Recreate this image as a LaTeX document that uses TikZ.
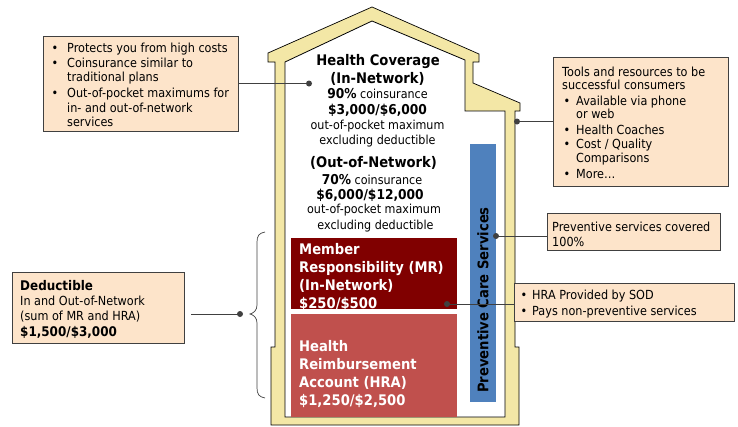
\documentclass[tikz,border=0pt]{standalone}
\usepackage{fontspec}
\setmainfont{DejaVu Sans}[FakeStretch=0.9]
\definecolor{wallc}{RGB}{243,231,166}
\definecolor{peach}{RGB}{253,228,202}
\definecolor{mrred}{RGB}{128,0,0}
\definecolor{hrared}{RGB}{192,80,77}
\definecolor{pblue}{RGB}{79,129,189}
\definecolor{linec}{RGB}{64,64,64}
\newcommand\mytitle{\fontsize{14.6}{17}\selectfont\bfseries}
\newcommand\myamt{\fontsize{13.6}{16}\selectfont\bfseries}
\newcommand\myreg{\fontsize{12.4}{15}\selectfont}
\newcommand\myboxt{\fontsize{12.5}{15}\selectfont}
\newcommand\myboxb{\fontsize{13.3}{15}\selectfont\bfseries}
\begin{document}
\begin{tikzpicture}[x=1pt,y=-1pt,
  infobox/.style={draw=linec, fill=peach, line width=0.8pt, inner sep=0pt, minimum width=#1},
  conn/.style={draw=linec, line width=0.8pt},
  dotc/.style={circle, fill=linec, inner sep=0pt, minimum size=6pt},
  ln/.style={anchor=base west, inner sep=0pt, font=\myboxt},
  bul/.style={anchor=base, inner sep=0pt, font=\myboxt},
  hl/.style={anchor=base, inner sep=0pt},
  wl/.style={anchor=base west, inner sep=0pt, text=white, font=\mytitle},
  blk/.style={inner sep=0pt, draw=none}]
\useasboundingbox (0,0) rectangle (738,426);

% house
\draw[fill=wallc, draw=black, line width=0.7pt]
  (271,425) -- (271,347) -- (275,347) -- (275,62) -- (268,62) -- (268,53) -- (372,7)
  -- (479,54) -- (479,62) -- (473,62) -- (473,83) -- (520,103) -- (520,111) -- (515,111)
  -- (515,347) -- (519,347) -- (519,425) -- cycle;
\draw[fill=white, draw=black, line width=0.8pt]
  (285,417) -- (285,62) -- (372,21) -- (465,60) -- (465,111) -- (505,111) -- (505,417) -- cycle;

% coloured blocks
\node[blk, fill=mrred, minimum width=166pt, minimum height=71pt] (mr) at (374,273.5) {};
\node[blk, fill=hrared, minimum width=166pt, minimum height=103pt] (hra) at (374,365.5) {};
\node[blk, fill=pblue, minimum width=26pt, minimum height=258pt] (pc) at (483,273) {};
\node[rotate=90, inner sep=0pt, font=\mytitle] (pct) at (483,300) {Preventive Care Services};

% house text
\node[hl, font=\mytitle] (h1) at (378,65) {Health Coverage};
\node[hl, font=\mytitle] (h2) at (377.5,83) {(In-Network)};
\node[hl, font=\myreg] (h3) at (377.5,98) {{\myamt 90\%} coinsurance};
\node[hl, font=\myamt] (h4) at (377.5,114) {\$3,000/\$6,000};
\node[hl, font=\myreg] (h5) at (377.5,129.5) {out-of-pocket maximum};
\node[hl, font=\myreg] (h6) at (377.5,144.5) {excluding deductible};
\node[hl, font=\mytitle] (h7) at (373.5,167) {(Out-of-Network)};
\node[hl, font=\myreg] (h8) at (372,184) {{\myamt 70\%} coinsurance};
\node[hl, font=\myamt] (h9) at (370,199) {\$6,000/\$12,000};
\node[hl, font=\myreg] (h10) at (374,213.5) {out-of-pocket maximum};
\node[hl, font=\myreg] (h11) at (375.5,229) {excluding deductible};

\node[wl] (m1) at (299,254) {Member};
\node[wl] (m2) at (299,272) {Responsibility (MR)};
\node[wl] (m3) at (299,290) {(In-Network)};
\node[wl] (m4) at (299,308) {\$250/\$500};

\node[wl] (r1) at (299,351) {Health};
\node[wl] (r2) at (299,369) {Reimbursement};
\node[wl] (r3) at (299,387) {Account (HRA)};
\node[wl] (r4) at (299,405) {\$1,250/\$2,500};

% top-left box
\node[infobox=195pt, minimum height=95pt] (bA) at (140.5,83.5) {};
\node[bul] (bA1) at (55,52) {•};
\node[ln] (tA1) at (67,52) {Protects you from high costs};
\node[bul] (bA2) at (55,67) {•};
\node[ln] (tA2) at (67,67) {Coinsurance similar to};
\node[ln] (tA3) at (67,81) {traditional plans};
\node[bul] (bA4) at (55,97) {•};
\node[ln] (tA4) at (67,97) {Out-of-pocket maximums for};
\node[ln] (tA5) at (67,112) {in- and out-of-network};
\node[ln] (tA6) at (67,126) {services};
\node[dotc] (dA) at (309,83.5) {};
\draw[conn] (bA.east) -- (dA.center);

% top-right box
\node[infobox=175pt, minimum height=129pt] (bB) at (640.5,121.5) {};
\node[ln] (tB1) at (562,76.5) {Tools and resources to be};
\node[ln] (tB2) at (562,89.5) {successful consumers};
\node[bul] (bB3) at (567,105.5) {•};
\node[ln] (tB3) at (576,105.5) {Available via phone};
\node[ln] (tB4) at (576,118.5) {or web};
\node[bul] (bB5) at (567,134.5) {•};
\node[ln] (tB5) at (576,134.5) {Health Coaches};
\node[bul] (bB6) at (567,148.5) {•};
\node[ln] (tB6) at (576,148.5) {Cost / Quality};
\node[ln] (tB7) at (576,162.5) {Comparisons};
\node[bul] (bB8) at (567,178.5) {•};
\node[ln] (tB8) at (576,178.5) {More…};
\node[dotc] (dB) at (517,121.5) {};
\draw[conn] (dB.center) -- (bB.west);

% preventive box
\node[infobox=173pt, minimum height=37pt] (bC) at (633.5,231.5) {};
\node[ln] (tC1) at (552,231) {Preventive services covered};
\node[ln] (tC2) at (552,246) {100\%};
\node[dotc] (dC) at (496,236) {};
\draw[conn] (dC.center) -- (dC.center -| bC.west);

% HRA box
\node[infobox=220pt, minimum height=38pt] (bD) at (624,302) {};
\node[bul] (bD1) at (524,299.5) {•};
\node[ln] (tD1) at (532,299.5) {HRA Provided by SOD};
\node[bul] (bD2) at (524,315.5) {•};
\node[ln] (tD2) at (532,315.5) {Pays non-preventive services};
\node[dotc] (dD) at (447,304) {};
\draw[conn] (dD.center) -- (dD.center -| bD.west);

% deductible box
\node[infobox=172pt, minimum height=71pt] (bE) at (98,307.5) {};
\node[ln, font=\myboxb] (tE1) at (20,290) {Deductible};
\node[ln] (tE2) at (20,305.5) {In and Out-of-Network};
\node[ln] (tE3) at (20,320.5) {(sum of MR and HRA)};
\node[ln, font=\myboxb] (tE4) at (20,336) {\$1,500/\$3,000};
\coordinate (eS) at (191,314);
\node[dotc] (dE) at (240,314) {};
\draw[conn] (eS) -- (dE.center);

% brace
\draw[linec, line width=0.7pt]
  (265,232) .. controls (259,233) and (257,236) .. (257,242)
  -- (257,305) .. controls (257,310) and (254,313) .. (250,314)
  .. controls (254,315) and (257,318) .. (257,323)
  -- (257,388) .. controls (257,394) and (259,397) .. (265,398);
\end{tikzpicture}
\end{document}
